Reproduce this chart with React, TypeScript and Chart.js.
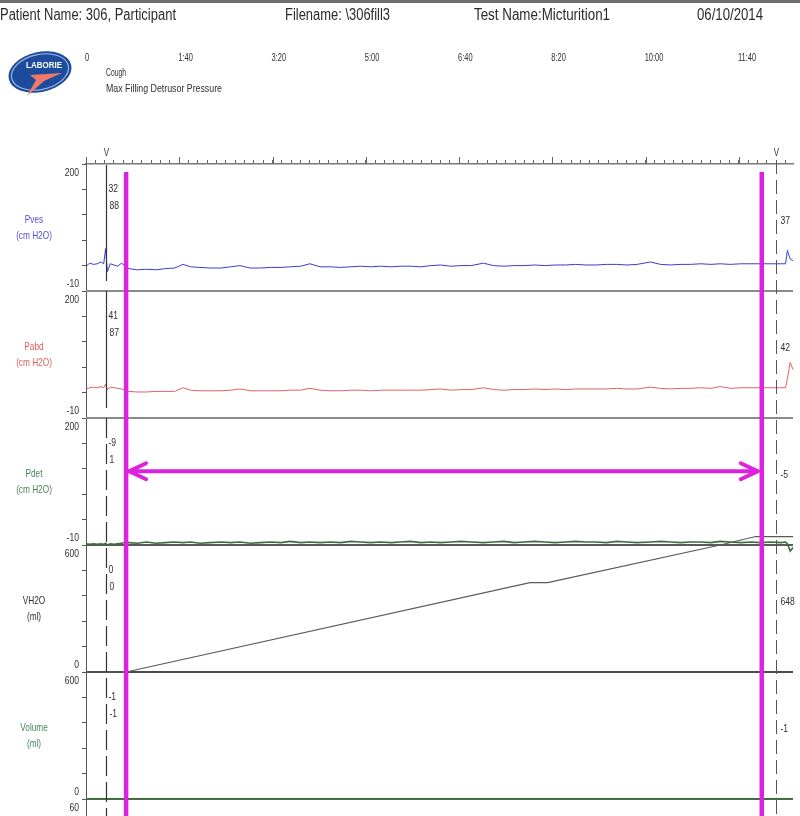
import { useEffect, useRef } from 'react';
import { Chart, registerables } from 'chart.js';

Chart.register(...registerables);

// ---------------- data ----------------
const TIME_S = [0, 4, 8, 12, 16, 19, 21, 23, 26, 30, 34, 38, 42, 46, 55, 65, 75, 85, 95, 104, 112, 122, 133, 145, 155, 165, 176, 187, 198, 209, 219, 230, 240, 251, 262, 273, 284, 294, 305, 316, 327, 337, 348, 359, 370, 380, 391, 402, 413, 426, 437, 448, 459, 470, 481, 492, 503, 514, 525, 536, 547, 558, 569, 580, 591, 605, 616, 627, 637, 648, 659, 670, 680, 691, 702, 713, 723, 734, 745, 750, 752, 755, 758];

const PVES = [31, 36, 34, 35, 38, 35, 60, 22, 35, 33,
  31, 36, 32, 27, 25, 26, 25, 27, 28, 34,
  30, 29, 28, 28, 30, 32, 28, 28, 29, 29,
  30, 31, 35, 30, 30, 29, 30, 31, 30, 31,
  30, 31, 31, 30, 32, 33, 31, 32, 32, 36,
  32, 31, 32, 32, 33, 32, 33, 33, 34, 33,
  33, 34, 34, 33, 34, 38, 34, 33, 34, 34,
  35, 34, 35, 34, 35, 35, 35, 35, 35, 35,
  57, 43, 40];

const PABD = [38, 40, 41, 40, 42, 40, 46, 37, 41, 40,
  39, 38, 36, 34, 33, 33, 34, 34, 34, 40,
  36, 35, 35, 35, 36, 38, 35, 35, 35, 35,
  36, 36, 39, 36, 35, 35, 36, 36, 35, 36,
  36, 36, 36, 36, 37, 38, 36, 37, 37, 40,
  37, 36, 37, 37, 38, 37, 38, 37, 38, 38,
  38, 38, 39, 38, 38, 41, 39, 38, 39, 39,
  40, 39, 42, 39, 40, 40, 40, 40, 40, 40,
  55, 82, 70];

const PDET = [-8, -9, -8, -9, -8, -9, -7, -10, -8, -9,
  -8, -7, -6, -6, -7, -5, -7, -6, -5, -6,
  -5, -7, -6, -5, -6, -5, -7, -6, -5, -6,
  -4, -6, -5, -6, -5, -6, -4, -5, -6, -5,
  -6, -5, -4, -6, -5, -6, -5, -4, -5, -6,
  -5, -4, -6, -5, -4, -5, -6, -5, -4, -5,
  -5, -6, -4, -5, -6, -5, -4, -5, -6, -5,
  -5, -6, -4, -5, -6, -5, -6, -5, -6, -5,
  -8, -20, -14];

const VH2O_T = [0, 43, 476, 495, 680, 718, 758];
const VH2O = [0, 0, 422, 422, 600, 640, 640];

const VOLUME_T = [0, 758];
const VOLUME = [-1, -1];

const TIME_LABEL_SECONDS = [0, 100, 200, 300, 400, 500, 600, 700];
const TIME_LABELS = ['0', '1:40', '3:20', '5:00', '6:40', '8:20', '10:00', '11:40'];

const PANEL_IDS = ['yPves', 'yPabd', 'yPdet', 'yVH2O', 'yVolume', 'yNext'];
const PANEL_NAMES = ['Pves', 'Pabd', 'Pdet', 'VH2O', 'Volume'];
const PANEL_UNITS = ['(cm H2O)', '(cm H2O)', '(cm H2O)', '(ml)', '(ml)'];
const PANEL_MIN = [-10, -10, -10, 0, 0, 52];
const PANEL_MAX = [200, 200, 200, 600, 600, 60];
const PANEL_WEIGHT = [127, 127, 127, 127, 127, 17];
const PANEL_TOP_LABEL = ['200', '200', '200', '600', '600', '60'];
const PANEL_BOTTOM_LABEL = ['-10', '-10', '-10', '0', '0', ''];

const LEFT_CURSOR_VALUES = [['32', '88'], ['41', '87'], ['-9', '1'], ['0', '0'], ['-1', '-1']];
const RIGHT_CURSOR_VALUES = ['37', '42', '-5', '648', '-1'];
const CURSOR_TIMES = [21.5, 740];
const MARKER_TIMES = [43, 724.5];
const ARROW_LEVEL = 112;
const EVENTS = ['Cough', 'Max Filling Detrusor Pressure'];
const HEADER = ['Patient Name: 306, Participant', 'Filename: \\306fill3', 'Test Name:Micturition1', '06/10/2014'];

// ---------------- styling ----------------
const FONT = '"Liberation Sans", Arial, sans-serif';
const TRACE_COLORS = ['#3b3bd0', '#e06262', '#3c6e3c', '#5a5a5a', '#3c7a3c'];
const LABEL_COLORS = ['#5050d0', '#e06060', '#4a845a', '#2e2e2e', '#4a845a'];
const DIVIDER_COLORS = ['#8a8a8a', '#8a8a8a', '#5a5a5a', '#4a4a4a', '#4a4a4a'];
const MAGENTA = '#dd22dd';

function drawText(ctx: CanvasRenderingContext2D, s: string, x: number, y: number, size: number, color: string, align: CanvasTextAlign, sx: number, bold = false) {
  ctx.save();
  ctx.font = `${bold ? 'bold ' : ''}${size}px ${FONT}`;
  ctx.fillStyle = color;
  ctx.textBaseline = 'middle';
  ctx.textAlign = align;
  ctx.translate(x, y);
  ctx.scale(sx, 1);
  ctx.fillText(s, 0, 0);
  ctx.restore();
}

function drawFit(ctx: CanvasRenderingContext2D, s: string, x: number, y: number, size: number, color: string, width: number, bold = false) {
  ctx.save();
  ctx.font = `${bold ? 'bold ' : ''}${size}px ${FONT}`;
  const w = ctx.measureText(s).width;
  ctx.restore();
  drawText(ctx, s, x, y, size, color, 'left', width / w, bold);
}

function line(ctx: CanvasRenderingContext2D, x1: number, y1: number, x2: number, y2: number) {
  ctx.beginPath();
  ctx.moveTo(x1, y1);
  ctx.lineTo(x2, y2);
  ctx.stroke();
}

const overlay = {
  id: 'overlay',
  beforeDatasetsDraw(chart: any) {
    const ctx = chart.ctx as CanvasRenderingContext2D;
    const area = chart.chartArea;
    ctx.save();
    ctx.lineWidth = 2;
    for (let i = 0; i < 5; i++) {
      const s = chart.scales[PANEL_IDS[i]];
      ctx.strokeStyle = DIVIDER_COLORS[i];
      line(ctx, area.left, s.bottom, area.right, s.bottom);
    }
    ctx.restore();
  },
  afterDraw(chart: any) {
    const ctx = chart.ctx as CanvasRenderingContext2D;
    const area = chart.chartArea;
    const xs = chart.scales.x;
    const H = chart.height;

    // header
    ctx.save();
    ctx.strokeStyle = '#6e6e6e';
    ctx.lineWidth = 3;
    line(ctx, 0, 1.5, 800, 1.5);
    ctx.restore();
    drawFit(ctx, HEADER[0], 0, 16, 16, '#2b2b2b', 176);
    drawFit(ctx, HEADER[1], 285, 16, 16, '#2b2b2b', 105);
    drawFit(ctx, HEADER[2], 474, 16, 16, '#2b2b2b', 136);
    drawFit(ctx, HEADER[3], 697, 16, 16, '#2b2b2b', 66);

    // logo
    ctx.save();
    ctx.translate(40, 72);
    ctx.rotate(-0.22);
    ctx.beginPath();
    ctx.ellipse(0, 0, 32, 20, 0, 0, Math.PI * 2);
    ctx.fillStyle = '#1d4c9c';
    ctx.fill();
    ctx.beginPath();
    ctx.ellipse(0, 0, 29, 17.5, 0, 0, Math.PI * 2);
    ctx.strokeStyle = '#9fb4df';
    ctx.lineWidth = 1.2;
    ctx.stroke();
    ctx.restore();
    drawFit(ctx, 'LABORIE', 26, 66, 9, '#ffffff', 36, true);
    ctx.save();
    ctx.fillStyle = '#f07a6a';
    ctx.beginPath();
    ctx.moveTo(30, 75);
    ctx.lineTo(62, 73);
    ctx.lineTo(44, 81);
    ctx.lineTo(27, 96);
    ctx.lineTo(36, 80);
    ctx.closePath();
    ctx.fill();
    ctx.restore();

    // time labels and events
    TIME_LABEL_SECONDS.forEach((t, i) => {
      drawText(ctx, TIME_LABELS[i], xs.getPixelForValue(t) - 1, 58, 11, '#2e2e2e', 'left', 0.68);
    });
    drawFit(ctx, EVENTS[0], 106, 73, 11, '#2e2e2e', 20);
    drawFit(ctx, EVENTS[1], 106, 89, 11, '#2e2e2e', 116);

    // major ticks on the time axis
    ctx.save();
    ctx.strokeStyle = '#666';
    ctx.lineWidth = 1;
    TIME_LABEL_SECONDS.forEach((t) => {
      const x = Math.round(xs.getPixelForValue(t)) + 0.5;
      line(ctx, x, area.top, x, area.top - 7);
    });
    ctx.restore();

    // panel names and axis labels
    PANEL_IDS.forEach((id, i) => {
      const s = chart.scales[id];
      if (PANEL_TOP_LABEL[i]) drawText(ctx, PANEL_TOP_LABEL[i], 79, s.top + 9, 11, '#2e2e2e', 'right', 0.78);
      if (PANEL_BOTTOM_LABEL[i]) drawText(ctx, PANEL_BOTTOM_LABEL[i], 79, s.bottom - 7.5, 11, '#2e2e2e', 'right', 0.78);
      if (i < 5) {
        const mid = (s.top + s.bottom) / 2;
        drawText(ctx, PANEL_NAMES[i], 34, mid - 8, 11, LABEL_COLORS[i], 'center', 0.75);
        drawText(ctx, PANEL_UNITS[i], 34, mid + 8, 11, LABEL_COLORS[i], 'center', 0.75);
      }
    });

    // cursors
    const cl = Math.round(xs.getPixelForValue(CURSOR_TIMES[0])) + 0.5;
    const cr = Math.round(xs.getPixelForValue(CURSOR_TIMES[1])) + 0.5;
    ctx.save();
    ctx.strokeStyle = '#333';
    ctx.lineWidth = 1.2;
    const p0 = chart.scales[PANEL_IDS[0]];
    const p1 = chart.scales[PANEL_IDS[1]];
    line(ctx, cl, p0.top + 1, cl, p0.bottom - 10);
    line(ctx, cl, p1.top, cl, p1.bottom - 10);
    ctx.setLineDash([20, 6]);
    line(ctx, cl, p1.bottom, cl, H);
    ctx.strokeStyle = '#555';
    ctx.lineWidth = 1;
    ctx.setLineDash([14, 6]);
    line(ctx, cr, area.top - 4, cr, H);
    ctx.restore();
    drawText(ctx, 'V', cl, 153, 10, '#333', 'center', 0.8);
    drawText(ctx, 'V', cr, 153, 10, '#333', 'center', 0.8);
    for (let i = 0; i < 5; i++) {
      const s = chart.scales[PANEL_IDS[i]];
      drawText(ctx, LEFT_CURSOR_VALUES[i][0], cl + 2, s.top + 25, 11, '#2e2e2e', 'left', 0.78);
      drawText(ctx, LEFT_CURSOR_VALUES[i][1], cl + 3, s.top + 42, 11, '#2e2e2e', 'left', 0.78);
      drawText(ctx, RIGHT_CURSOR_VALUES[i], cr + 4, s.top + 57, 11, '#2e2e2e', 'left', 0.78);
    }

    // magenta markers
    const m1 = xs.getPixelForValue(MARKER_TIMES[0]);
    const m2 = xs.getPixelForValue(MARKER_TIMES[1]);
    const ay = chart.scales.yPdet.getPixelForValue(ARROW_LEVEL);
    ctx.save();
    ctx.strokeStyle = MAGENTA;
    ctx.lineWidth = 4.5;
    line(ctx, m1, area.top + 8, m1, H);
    line(ctx, m2, area.top + 8, m2, H);
    ctx.lineWidth = 4;
    ctx.lineCap = 'round';
    ctx.lineJoin = 'round';
    const a1 = m1 + 3;
    const a2 = m2 - 4;
    line(ctx, a1, ay, a2, ay);
    ctx.beginPath();
    ctx.moveTo(a1 + 17, ay - 8);
    ctx.lineTo(a1, ay);
    ctx.lineTo(a1 + 17, ay + 8);
    ctx.stroke();
    ctx.beginPath();
    ctx.moveTo(a2 - 17, ay - 8);
    ctx.lineTo(a2, ay);
    ctx.lineTo(a2 - 17, ay + 8);
    ctx.stroke();
    ctx.restore();
  },
};

function yAxis(i: number) {
  const min = PANEL_MIN[i];
  const max = PANEL_MAX[i];
  const full = i === 5 ? 60 : max - min;
  const step = full / 5;
  const ticks: number[] = [];
  for (let v = max; v >= min - 1e-6; v -= step) ticks.push(v);
  return {
    type: 'linear',
    position: 'left',
    stack: 'panels',
    stackWeight: PANEL_WEIGHT[i],
    weight: 10 - i,
    min,
    max,
    afterBuildTicks: (axis: any) => {
      axis.ticks = ticks.map((v) => ({ value: v }));
    },
    ticks: { display: false, autoSkip: false },
    grid: { drawOnChartArea: false, tickLength: 4, color: '#555', lineWidth: 1 },
    border: { display: true, color: '#555', width: 1 },
  };
}

export default function App() {
  const ref = useRef<HTMLCanvasElement>(null);

  useEffect(() => {
    if (!ref.current) return;
    const minorTicks: number[] = [];
    for (let t = 0; t <= 758; t += 10) minorTicks.push(t);

    const scales: any = {
      x: {
        type: 'linear',
        position: 'top',
        min: 0,
        max: 758,
        afterBuildTicks: (axis: any) => {
          axis.ticks = minorTicks.map((v) => ({ value: v }));
        },
        ticks: { display: false, autoSkip: false },
        grid: { drawOnChartArea: false, tickLength: 4, color: '#666' },
        border: { display: true, color: '#777', width: 1.5 },
      },
    };
    PANEL_IDS.forEach((id, i) => {
      scales[id] = yAxis(i);
    });

    const series = [
      { label: 'Pves', t: TIME_S, v: PVES, axis: 'yPves', w: 1 },
      { label: 'Pabd', t: TIME_S, v: PABD, axis: 'yPabd', w: 1 },
      { label: 'Pdet', t: TIME_S, v: PDET, axis: 'yPdet', w: 1.6 },
      { label: 'VH2O', t: VH2O_T, v: VH2O, axis: 'yVH2O', w: 1.2 },
      { label: 'Volume', t: VOLUME_T, v: VOLUME, axis: 'yVolume', w: 1.4 },
    ];

    const chart = new Chart(ref.current, {
      type: 'line',
      data: {
        datasets: series.map((s, i) => ({
          label: s.label,
          data: s.t.map((t, k) => ({ x: t, y: s.v[k] })),
          yAxisID: s.axis,
          xAxisID: 'x',
          borderColor: TRACE_COLORS[i],
          borderWidth: s.w,
          pointRadius: 0,
          tension: 0,
          fill: false,
          clip: false,
        })),
      },
      options: {
        responsive: false,
        maintainAspectRatio: false,
        devicePixelRatio: 1,
        animation: false,
        layout: { autoPadding: false, padding: { top: 160, left: 82, right: 7, bottom: 0 } },
        plugins: { legend: { display: false }, tooltip: { enabled: false }, title: { display: false } },
        scales,
      } as any,
      plugins: [overlay],
    });
    return () => chart.destroy();
  }, []);

  return (
    <div style={{ position: 'absolute', left: 0, top: 0, width: 800, height: 816, background: '#fff' }}>
      <canvas ref={ref} width={800} height={816} style={{ display: 'block' }} />
    </div>
  );
}
